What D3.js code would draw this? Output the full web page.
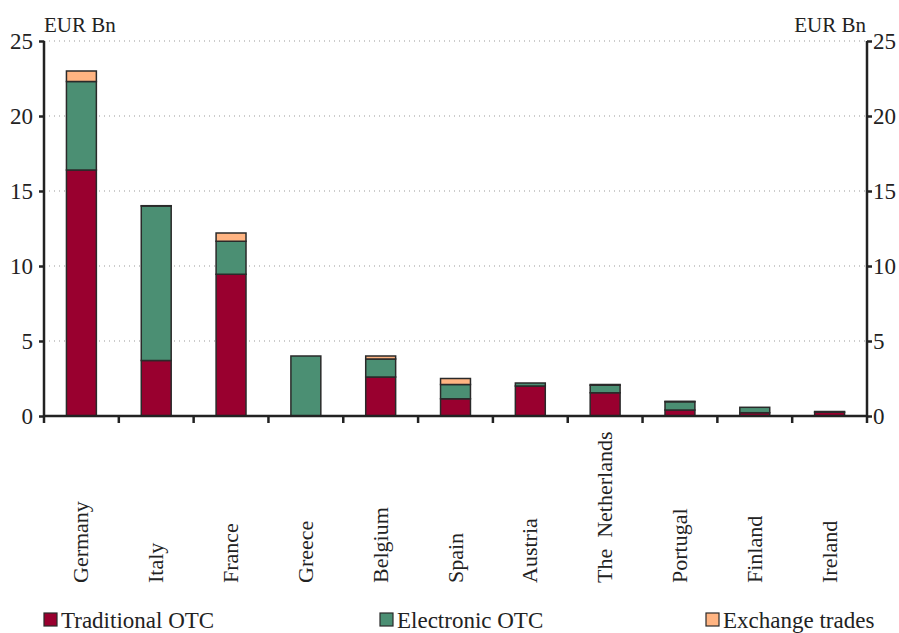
<!DOCTYPE html>
<html>
<head>
<meta charset="utf-8">
<script src="https://cdn.jsdelivr.net/npm/d3@7"></script>
<style>
  body { margin: 0; background: #fff; }
</style>
</head>
<body>
<svg id="chart" width="899" height="633"></svg>
<script>
// values, EUR Bn
const countries = ['Germany', 'Italy', 'France', 'Greece', 'Belgium', 'Spain',
                   'Austria', 'The  Netherlands', 'Portugal', 'Finland', 'Ireland'];
const traditional = [16.4, 3.7, 9.45, 0, 2.6, 1.15, 2.0, 1.55, 0.4, 0.22, 0.25];
const electronic  = [5.9, 10.3, 2.2, 4.0, 1.2, 0.95, 0.2, 0.5, 0.55, 0.36, 0.05];
const exchange    = [0.7, 0.02, 0.55, 0, 0.2, 0.4, 0, 0.05, 0.03, 0, 0];
const seriesNames = ['Traditional OTC', 'Electronic OTC', 'Exchange trades'];
const colors = ['#99002f', '#4b8f73', '#ffb482'];
const yTicks = [0, 5, 10, 15, 20, 25];

const serif = '"Liberation Serif"';
const svg = d3.select('#chart');
const plot = {left: 44, right: 867, top: 41, bottom: 416};

const x = d3.scaleBand().domain(countries).range([plot.left, plot.right]);
const y = d3.scaleLinear().domain([0, 25]).range([plot.bottom, plot.top]);

const rows = countries.map((c, i) => ({
  country: c, trad: traditional[i], elec: electronic[i], exch: exchange[i]
}));
const stack = d3.stack().keys(['trad', 'elec', 'exch'])(rows);

// dotted grid
svg.append('g')
  .selectAll('line')
  .data(yTicks.filter(d => d > 0))
  .enter().append('line')
  .attr('x1', plot.left).attr('x2', plot.right)
  .attr('y1', d => y(d)).attr('y2', d => y(d))
  .style('stroke', '#999')
  .style('stroke-width', 1)
  .style('stroke-dasharray', '1,4');

// bars
const barW = x.bandwidth() * 0.4;
svg.append('g')
  .selectAll('g')
  .data(stack)
  .enter().append('g')
  .style('fill', (d, i) => colors[i])
  .selectAll('rect')
  .data(d => d.filter(p => p[1] - p[0] > 0))
  .enter().append('rect')
  .attr('x', d => x(d.data.country) + (x.bandwidth() - barW) / 2)
  .attr('width', barW)
  .attr('y', d => y(d[1]))
  .attr('height', d => y(d[0]) - y(d[1]))
  .style('stroke', '#2a2a2a')
  .style('stroke-width', 1.5);

// axes
const yLeft = d3.axisLeft(y).tickValues(yTicks).tickSize(6).tickPadding(5);
const yRight = d3.axisRight(y).tickValues(yTicks).tickSize(6).tickPadding(0);
const gl = svg.append('g').attr('transform', `translate(${plot.left},0)`).call(yLeft);
const gr = svg.append('g').attr('transform', `translate(${plot.right},0)`).call(yRight);
[gl, gr].forEach(g => {
  g.select('.domain').attr('d', `M0,${plot.top}V${plot.bottom}`)
    .style('stroke', '#222').style('stroke-width', 2.5);
  g.selectAll('.tick line').style('stroke', '#222').style('stroke-width', 2.5);
  g.selectAll('.tick text')
    .style('font-family', serif).style('font-size', '23px').style('fill', '#222');
});
gl.selectAll('.tick line').attr('x2', -5);
gr.selectAll('.tick line').attr('x2', 5);

const xAxis = d3.axisBottom(x).tickSize(0).tickFormat('');
const gx = svg.append('g').attr('transform', `translate(0,${plot.bottom})`).call(xAxis);
gx.select('.domain').attr('d', `M${plot.left},0H${plot.right}`)
  .style('stroke', '#222').style('stroke-width', 2.5);
gx.selectAll('.sep')
  .data(d3.range(countries.length + 1))
  .enter().append('line')
  .attr('x1', i => plot.left + i * x.step()).attr('x2', i => plot.left + i * x.step())
  .attr('y1', 0).attr('y2', 7)
  .style('stroke', '#222').style('stroke-width', 2.5);

// category labels
svg.append('g')
  .selectAll('text')
  .data(countries)
  .enter().append('text')
  .attr('transform', d => `translate(${x(d) + x.bandwidth() / 2 + 7},583) rotate(-90)`)
  .style('font-family', serif).style('font-size', '22px').style('fill', '#222')
  .style('white-space', 'pre')
  .text(d => d);

// unit labels
svg.append('text').attr('x', plot.left).attr('y', 32)
  .style('font-family', serif).style('font-size', '21px').style('fill', '#222')
  .text('EUR Bn');
svg.append('text').attr('x', plot.right - 1).attr('y', 32)
  .attr('text-anchor', 'end')
  .style('font-family', serif).style('font-size', '21px').style('fill', '#222')
  .text('EUR Bn');

// legend
const legendX = [44, 380, 706];
const lg = svg.append('g')
  .selectAll('g')
  .data(seriesNames)
  .enter().append('g')
  .attr('transform', (d, i) => `translate(${legendX[i]},613)`);
lg.append('rect')
  .attr('width', 13).attr('height', 13)
  .style('fill', (d, i) => colors[i])
  .style('stroke', '#2a2a2a').style('stroke-width', 1.2);
lg.append('text')
  .attr('x', 17).attr('y', 15)
  .style('font-family', serif).style('font-size', '23px').style('fill', '#222')
  .text(d => d);
</script>
</body>
</html>
